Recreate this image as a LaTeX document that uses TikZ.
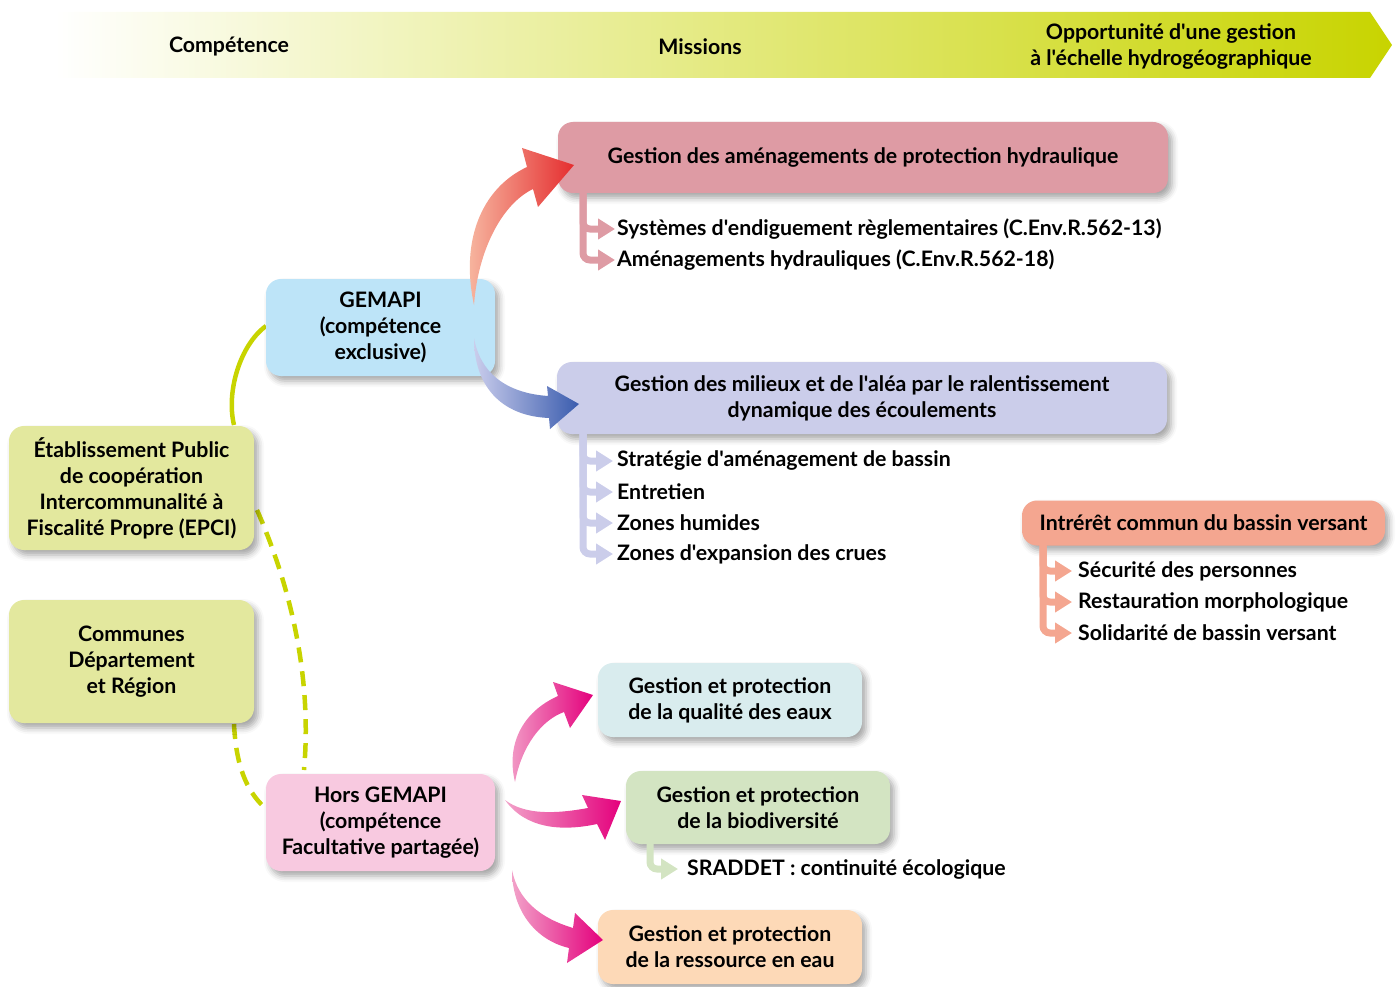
\documentclass[tikz,border=0pt]{standalone}
\usepackage{fontspec}
\newfontfamily\latofont{Lato}
\usetikzlibrary{arrows.meta,calc,shadows.blur}
\definecolor{bannerMid}{HTML}{E8EBB2}
\definecolor{bannerEnd}{HTML}{C8D400}
\definecolor{cRed}{HTML}{DE9BA4}
\definecolor{cPurple}{HTML}{CBCDEA}
\definecolor{cSalmon}{HTML}{F4A690}
\definecolor{cGem}{HTML}{BDE4F8}
\definecolor{cEpci}{HTML}{E3E89E}
\definecolor{cHors}{HTML}{F8C9E0}
\definecolor{cQual}{HTML}{D9ECEE}
\definecolor{cBio}{HTML}{D3E4C2}
\definecolor{cRes}{HTML}{FDD9B7}
\definecolor{cLine}{HTML}{C8D400}
\definecolor{redA}{HTML}{F8C0A8}
\definecolor{redB}{HTML}{E52D2F}
\definecolor{blueA}{HTML}{CACDEC}
\definecolor{blueB}{HTML}{3A5CAE}
\definecolor{pinkA}{HTML}{F2A2C9}
\definecolor{pinkB}{HTML}{E4007C}
\begin{document}
\begin{tikzpicture}[x=1pt,y=-1pt,
  font=\latofont\bfseries\fontsize{21.3}{26}\selectfont,
  box/.style={rectangle, rounded corners=15pt, align=center, inner sep=0pt,
    blur shadow={shadow xshift=4pt, shadow yshift=-5pt, shadow blur radius=6pt, shadow opacity=35}},
  item/.style={anchor=west, inner sep=0pt},
  br/.style={line width=7pt, rounded corners=7pt, draw=#1,
    -{Triangle[length=17pt,width=20pt]}},
  conn/.style={draw=cLine, line width=4.5pt},
  dconn/.style={conn, dash pattern=on 15pt off 9pt}]
\useasboundingbox (0,0) rectangle (1397,987);

% banner
\shade[left color=white, middle color=bannerMid, right color=bannerEnd]
  (55,12) -- (1370,12) -- (1392,45) -- (1370,78) -- (55,78) -- cycle;
\node (h1) at (229,47) {Compétence};
\node (h2) at (700,47) {Missions};
\node[align=center] (h3) at (1171,47) {Opportunité d'une gestion\\à l'échelle hydrogéographique};

% connectors between left boxes
\coordinate (gemW) at (266,326);
\coordinate (epciN) at (234,425);
\coordinate (epciE) at (257,510);
\coordinate (horsN) at (304,770);
\coordinate (commS) at (234,724);
\coordinate (horsW) at (264,807);
\draw[conn] (gemW) .. controls (240,345) and (226,392) .. (epciN);
\draw[dconn] (epciE) .. controls (292,590) and (312,680) .. (horsN);
\draw[dconn] (commS) .. controls (236,765) and (246,790) .. (horsW);

\node[box, fill=cGem, minimum width=229pt, minimum height=97pt] (gem) at (380.5,327.5) {GEMAPI\\(compétence\\exclusive)};
\node[box, fill=cEpci, minimum width=245pt, minimum height=124pt] (epci) at (131.5,488) {Établissement Public\\de coopération\\Intercommunalité à\\Fiscalité Propre (EPCI)};
\node[box, fill=cEpci, minimum width=245pt, minimum height=123pt] (comm) at (131.5,661.5) {Communes\\Département\\et Région};
\node[box, fill=cHors, minimum width=229pt, minimum height=97pt] (hors) at (380.5,822.5) {Hors GEMAPI\\(compétence\\Facultative partagée)};

% mission boxes
\node[box, fill=cRed, minimum width=610pt, minimum height=71pt] (red) at (863,157.5) {Gestion des aménagements de protection hydraulique};
\node[box, fill=cPurple, minimum width=610pt, minimum height=72pt] (pur) at (862,398) {Gestion des milieux et de l'aléa par le ralentissement\\dynamique des écoulements};
\node[box, fill=cSalmon, minimum width=363pt, minimum height=45pt] (sal) at (1203.5,523) {Intrérêt commun du bassin versant};
\node[box, fill=cQual, minimum width=264pt, minimum height=74pt] (qual) at (730,700) {Gestion et protection\\de la qualité des eaux};
\node[box, fill=cBio, minimum width=264pt, minimum height=73pt] (bio) at (758,807.5) {Gestion et protection\\de la biodiversité};
\node[box, fill=cRes, minimum width=264pt, minimum height=74pt] (res) at (730,947) {Gestion et protection\\de la ressource en eau};

% sub items
\node[item] (r1) at (617,229) {Systèmes d'endiguement règlementaires (C.Env.R.562-13)};
\node[item] (r2) at (617,260) {Aménagements hydrauliques (C.Env.R.562-18)};
\node[item] (p1) at (617,461) {Stratégie d'aménagement de bassin};
\node[item] (p2) at (617,492) {Entretien};
\node[item] (p3) at (617,523) {Zones humides};
\node[item] (p4) at (617,554) {Zones d'expansion des crues};
\node[item] (s1) at (1078,571) {Sécurité des personnes};
\node[item] (s2) at (1078,602) {Restauration morphologique};
\node[item] (s3) at (1078,633) {Solidarité de bassin versant};
\node[item] (b1) at (687,869) {SRADDET : continuité écologique};

\foreach \t in {r1,r2} \draw[br=cRed, shorten >=2pt] (583,192) |- (\t.west);
\foreach \t in {p1,p2,p3,p4} \draw[br=cPurple, shorten >=4pt] (583,433) |- (\t.west);
\foreach \t in {s1,s2,s3} \draw[br=cSalmon, shorten >=6pt] (1043,545) |- (\t.west);
\draw[br=cBio, shorten >=9pt] (650,843) |- (b1.west);

% fat gradient arrows
\shade[left color=redA, right color=redB]
  (474,305) .. controls (460,240) and (482,188) .. (527,167) -- (522,148) -- (574,165)
  -- (538,207) -- (533,189) .. controls (502,204) and (478,250) .. (474,305) -- cycle;
\shade[left color=blueA, right color=blueB]
  (474,338) .. controls (480,372) and (505,393) .. (548,396) -- (547,386) -- (579,404)
  -- (550,429) -- (549,418) .. controls (500,416) and (474,385) .. (474,338) -- cycle;
\shade[left color=pinkA, right color=pinkB]
  (515,782) .. controls (506,745) and (522,712) .. (558,696) -- (553,682) -- (593,695)
  -- (570,728) -- (564,712) .. controls (542,720) and (522,745) .. (515,782) -- cycle;
\shade[left color=pinkA, right color=pinkB]
  (505,800) .. controls (525,815) and (555,814) .. (588,808) -- (582,795) -- (621,801)
  -- (605,840) -- (597,824) .. controls (560,832) and (525,828) .. (505,800) -- cycle;
\shade[left color=pinkA, right color=pinkB]
  (512,870) .. controls (518,900) and (540,918) .. (573,928) -- (575,913) -- (603,940)
  -- (567,963) -- (569,948) .. controls (535,940) and (512,910) .. (512,870) -- cycle;
\end{tikzpicture}
\end{document}
